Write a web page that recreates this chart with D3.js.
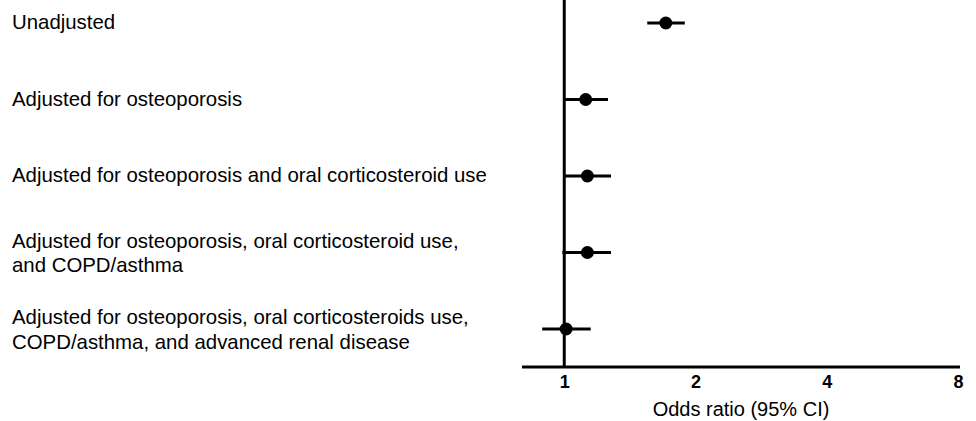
<!DOCTYPE html>
<html>
<head>
<meta charset="utf-8">
<script src="https://cdn.jsdelivr.net/npm/d3@7"></script>
<style>
  body { margin: 0; background: #fff; }
  svg { display: block; font-family: "Liberation Sans", Arial, sans-serif; }
</style>
</head>
<body>
<div id="chart"></div>
<script>
// rows, top to bottom
const categories = [
    "Unadjusted",
    "Adjusted for osteoporosis",
    "Adjusted for osteoporosis and oral corticosteroid use",
    "Adjusted for osteoporosis, oral corticosteroid use,\nand COPD/asthma",
    "Adjusted for osteoporosis, oral corticosteroids use,\nCOPD/asthma, and advanced renal disease"
]
const oddsRatio = [1.71, 1.12, 1.13, 1.13, 1.01]
const ciLow = [1.55, 1.00, 1.00, 0.99, 0.89]
const ciHigh = [1.89, 1.26, 1.28, 1.28, 1.15]
const xTicks = [1, 2, 4, 8]
const xTitle = "Odds ratio (95% CI)"

const width = 976
const height = 421

const svg = d3.select("#chart")
    .append("svg")
    .attr("width", width)
    .attr("height", height)

const x = d3.scaleLog()
    .base(2)
    .domain([0.8, 8])
    .range([522, 958])

const y = d3.scalePoint()
    .domain(d3.range(categories.length))
    .range([23, 329])

const axisY = 367

// axis line + bold tick labels
const xAxis = d3.axisBottom(x)
    .tickValues(xTicks)
    .tickFormat(d3.format("d"))
    .tickSize(0)

const gx = svg.append("g")
    .attr("transform", `translate(0,${axisY})`)
    .call(xAxis)

gx.select(".domain")
    .attr("d", `M${x.range()[0]},0H${x.range()[1] + 2}`)
    .attr("stroke", "#000")
    .attr("stroke-width", 3)

gx.selectAll(".tick text")
    .attr("y", 20.5)
    .attr("dy", null)
    .attr("font-size", 18)
    .attr("font-weight", "bold")
    .attr("font-family", "'Liberation Sans', Arial, sans-serif")
    .attr("fill", "#000")

svg.append("text")
    .attr("x", (x.range()[0] + x.range()[1] + 2) / 2)
    .attr("y", 416)
    .attr("text-anchor", "middle")
    .attr("font-size", 20)
    .text(xTitle)

// reference line at OR = 1
svg.append("line")
    .attr("x1", x(1)).attr("x2", x(1))
    .attr("y1", 0).attr("y2", axisY)
    .attr("stroke", "#000")
    .attr("stroke-width", 3)

const rows = svg.append("g")
    .selectAll("g")
    .data(categories.map((c, i) => ({ label: c, or: oddsRatio[i], lo: ciLow[i], hi: ciHigh[i], i })))
    .join("g")

rows.append("line")
    .attr("x1", d => x(d.lo))
    .attr("x2", d => x(d.hi))
    .attr("y1", d => y(d.i))
    .attr("y2", d => y(d.i))
    .attr("stroke", "#000")
    .attr("stroke-width", 3)

rows.append("circle")
    .attr("cx", d => x(d.or))
    .attr("cy", d => y(d.i))
    .attr("r", 6.5)
    .attr("fill", "#000")

// labels, multi-line ones centred on the row
const lineH = 24.5
rows.append("text")
    .attr("font-size", 20.4)
    .attr("fill", "#000")
    .each(function(d) {
        const lines = d.label.split("\n")
        const first = y(d.i) + 6 - (lines.length - 1) * 11
        d3.select(this).selectAll("tspan")
            .data(lines)
            .join("tspan")
            .attr("x", 12)
            .attr("y", (l, j) => first + j * lineH)
            .text(l => l)
    })
</script>
</body>
</html>
